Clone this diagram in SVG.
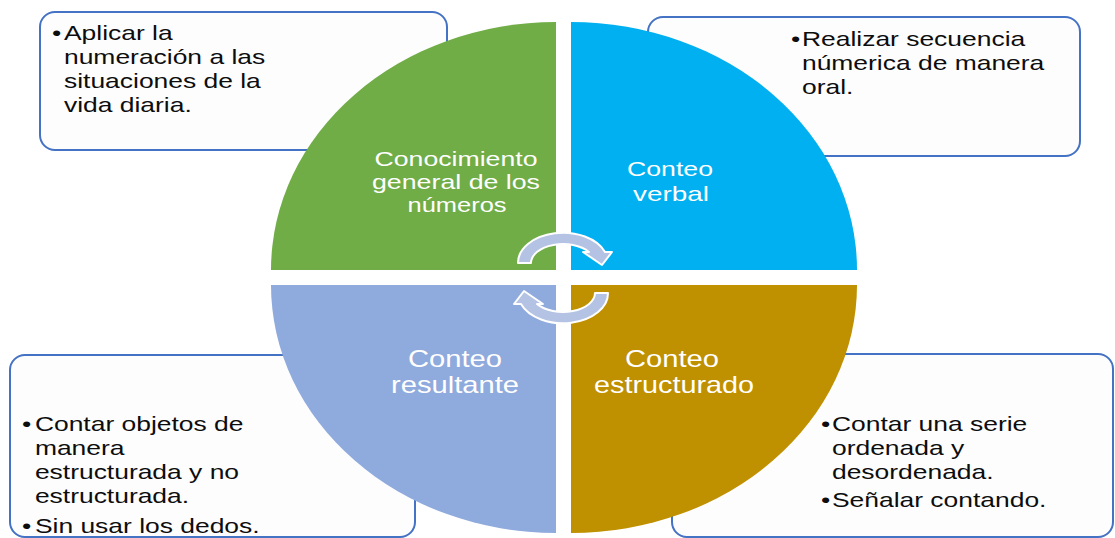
<svg xmlns="http://www.w3.org/2000/svg" width="1115" height="538" viewBox="0 0 1115 538">
  <style>
    .box { fill: #FDFDFD; stroke: #4472C4; stroke-width: 2; }
    .btxt { font-family: "Liberation Sans", Arial, sans-serif; font-size: 20.5px; fill: #0D0D0D; }
    .lbl { font-family: "Liberation Sans", Arial, sans-serif; fill: #FFFFFF; text-anchor: middle; }
    .lblS { font-size: 21px; }
    .lblL { font-size: 24px; }
    .arrow { fill: #B4C2E4; stroke: #FFFFFF; stroke-width: 2; stroke-linejoin: round; }
  </style>
  <rect width="1115" height="538" fill="#FFFFFF"/>

  <g id="box-top-left">
    <rect class="box" x="40" y="12" width="407" height="138" rx="15"/>
    <g class="btxt" transform="translate(52 0) scale(1.29 1)">
      <text x="0" y="40">•</text>
      <text x="9.3" y="40">Aplicar la</text>
      <text x="9.3" y="64">numeración a las</text>
      <text x="9.3" y="88">situaciones de la</text>
      <text x="9.3" y="112">vida diaria.</text>
    </g>
  </g>

  <g id="box-top-right">
    <rect class="box" x="648" y="17" width="432" height="139" rx="15"/>
    <g class="btxt" transform="translate(791 0) scale(1.29 1)">
      <text x="0" y="46">•</text>
      <text x="8.5" y="46">Realizar secuencia</text>
      <text x="8.5" y="70">númerica de manera</text>
      <text x="8.5" y="94">oral.</text>
    </g>
  </g>

  <g id="box-bottom-left">
    <rect class="box" x="10" y="355" width="405" height="182" rx="15"/>
    <g class="btxt" transform="translate(22 0) scale(1.29 1)">
      <text x="0" y="431">•</text>
      <text x="10" y="431">Contar objetos de</text>
      <text x="10" y="455">manera</text>
      <text x="10" y="479">estructurada y no</text>
      <text x="10" y="503">estructurada.</text>
      <text x="0" y="533">•</text>
      <text x="10" y="533">Sin usar los dedos.</text>
    </g>
  </g>

  <g id="box-bottom-right">
    <rect class="box" x="672" y="354" width="441" height="183" rx="15"/>
    <g class="btxt" transform="translate(821 0) scale(1.29 1)">
      <text x="0" y="431">•</text>
      <text x="8.5" y="431">Contar una serie</text>
      <text x="8.5" y="455">ordenada y</text>
      <text x="8.5" y="479">desordenada.</text>
      <text x="0" y="507">•</text>
      <text x="8.5" y="507">Señalar contando.</text>
    </g>
  </g>

  <g id="q-conocimiento">
    <path d="M556 270 L271 270 A285 248 0 0 1 556 22 Z" fill="#70AD47"/>
    <text class="lbl lblS" x="456" y="166" textLength="163" lengthAdjust="spacingAndGlyphs">Conocimiento</text>
    <text class="lbl lblS" x="456" y="189" textLength="168" lengthAdjust="spacingAndGlyphs">general de los</text>
    <text class="lbl lblS" x="457" y="212" textLength="99" lengthAdjust="spacingAndGlyphs">números</text>
  </g>

  <g id="q-verbal">
    <path d="M571 270 L571 22 A286 248 0 0 1 857 270 Z" fill="#00B0F0"/>
    <text class="lbl lblS" x="670" y="176" textLength="86" lengthAdjust="spacingAndGlyphs">Conteo</text>
    <text class="lbl lblS" x="671" y="201" textLength="76" lengthAdjust="spacingAndGlyphs">verbal</text>
  </g>

  <g id="q-resultante">
    <path d="M556 285 L556 533 A285 248 0 0 1 271 285 Z" fill="#8FAADC"/>
    <text class="lbl lblL" x="455" y="367" textLength="94" lengthAdjust="spacingAndGlyphs">Conteo</text>
    <text class="lbl lblL" x="455" y="393" textLength="128" lengthAdjust="spacingAndGlyphs">resultante</text>
  </g>

  <g id="q-estructurado">
    <path d="M571 285 L857 285 A286 248 0 0 1 571 533 Z" fill="#BF9000"/>
    <text class="lbl lblL" x="672" y="367" textLength="94" lengthAdjust="spacingAndGlyphs">Conteo</text>
    <text class="lbl lblL" x="674" y="393" textLength="160" lengthAdjust="spacingAndGlyphs">estructurado</text>
  </g>

  <g id="connectors">
    <path class="arrow" d="M518 263 A45 30 0 0 1 605 252 L612 252 L602 265 L583 252 L589 252 A32 19 0 0 0 531 263 Z"/>
    <path class="arrow" d="M518 263 A45 30 0 0 1 605 252 L612 252 L602 265 L583 252 L589 252 A32 19 0 0 0 531 263 Z" transform="rotate(180 563 278)"/>
  </g>
</svg>
